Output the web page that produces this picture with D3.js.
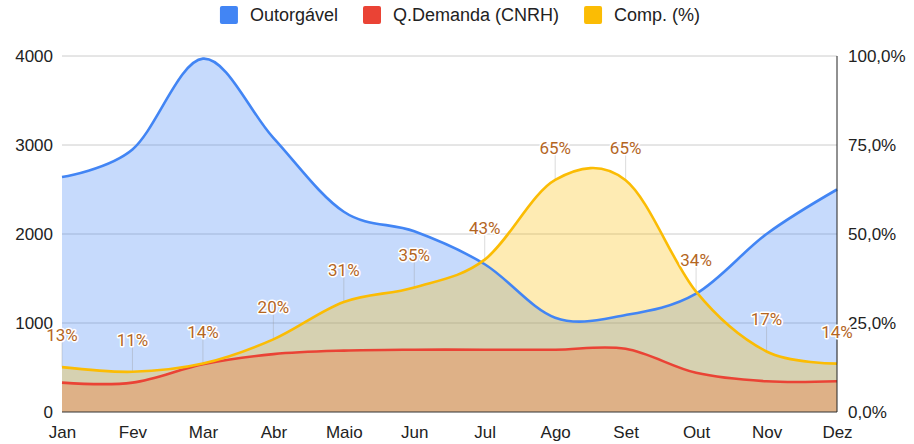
<!DOCTYPE html>
<html>
<head>
<meta charset="utf-8">
<script src="https://cdn.jsdelivr.net/npm/d3@7"></script>
<style>
  body { margin: 0; background: #fff; }
  svg { font-family: Arial, "Liberation Sans", sans-serif; }
</style>
</head>
<body>
<svg id="chart" width="914" height="444"></svg>
<script>
var months = ['Jan', 'Fev', 'Mar', 'Abr', 'Maio', 'Jun', 'Jul', 'Ago', 'Set', 'Out', 'Nov', 'Dez'];
var outorgavel = [2640, 2950, 3970, 3080, 2250, 2030, 1660, 1060, 1090, 1330, 2000, 2500];
var demanda = [330, 330, 536, 650, 690, 700, 700, 700, 710, 440, 345, 345];
var comp = [12.6, 11.3, 13.6, 20.4, 30.9, 35.0, 42.8, 65.2, 65.1, 33.8, 17.0, 13.6];
var leftTicks = [0, 1000, 2000, 3000, 4000];
var rightTicks = [0, 25, 50, 75, 100];
var seriesNames = ['Outorgável', 'Q.Demanda (CNRH)', 'Comp. (%)'];
var colors = ['#4285f4', '#ea4335', '#fbbc04'];

var svg = d3.select('#chart');
var plotLeft = 62, plotRight = 837, plotTop = 56, plotBottom = 412;

var x = d3.scalePoint().domain(months).range([plotLeft, plotRight]);
var yL = d3.scaleLinear().domain([0, 4000]).range([plotBottom, plotTop]);
var yR = d3.scaleLinear().domain([0, 100]).range([plotBottom, plotTop]);

// gridlines
svg.append('g')
    .selectAll('line')
    .data(leftTicks.slice(1))
    .enter()
    .append('line')
    .attr('x1', plotLeft).attr('x2', plotRight)
    .attr('y1', d => yL(d)).attr('y2', d => yL(d))
    .attr('stroke', '#cccccc')
    .attr('stroke-width', 1);

var curve = d3.curveCardinal.tension(0);

var series = [
    { vals: outorgavel, y: yL, color: colors[0] },
    { vals: demanda, y: yL, color: colors[1] },
    { vals: comp, y: yR, color: colors[2] }
];

series.forEach(function(s) {
    var area = d3.area()
        .x((d, i) => x(months[i]))
        .y0(plotBottom)
        .y1(d => s.y(d))
        .curve(curve);
    svg.append('path')
        .attr('d', area(s.vals))
        .attr('fill', s.color)
        .attr('fill-opacity', 0.3);
});

// annotation stems
svg.append('g')
    .selectAll('line')
    .data(comp)
    .enter()
    .append('line')
    .attr('x1', (d, i) => x(months[i])).attr('x2', (d, i) => x(months[i]))
    .attr('y1', d => yR(d) - 25).attr('y2', d => yR(d))
    .attr('stroke', '#999')
    .attr('stroke-opacity', 0.35)
    .attr('stroke-width', 1);

series.forEach(function(s) {
    var line = d3.line()
        .x((d, i) => x(months[i]))
        .y(d => s.y(d))
        .curve(curve);
    svg.append('path')
        .attr('d', line(s.vals))
        .attr('fill', 'none')
        .attr('stroke', s.color)
        .attr('stroke-width', 2.6);
});

// baseline and right axis line
svg.append('line')
    .attr('x1', plotLeft).attr('x2', plotRight)
    .attr('y1', plotBottom).attr('y2', plotBottom)
    .attr('stroke', '#333').attr('stroke-width', 1);
svg.append('line')
    .attr('x1', plotRight).attr('x2', plotRight)
    .attr('y1', plotTop).attr('y2', plotBottom)
    .attr('stroke', '#222').attr('stroke-width', 1);

// axes
var axisL = d3.axisLeft(yL).tickValues(leftTicks).tickSize(0).tickPadding(9)
    .tickFormat(d3.format('d'));
var gL = svg.append('g').attr('transform', 'translate(' + plotLeft + ',0)').call(axisL);
var axisR = d3.axisRight(yR).tickValues(rightTicks).tickSize(0).tickPadding(11)
    .tickFormat(d => d.toFixed(1).replace('.', ',') + '%');
var gR = svg.append('g').attr('transform', 'translate(' + plotRight + ',0)').call(axisR);
var axisB = d3.axisBottom(x).tickSize(0).tickPadding(14);
var gB = svg.append('g').attr('transform', 'translate(0,' + plotBottom + ')').call(axisB);
[gL, gR, gB].forEach(function(g) {
    g.select('.domain').remove();
    g.selectAll('text')
        .attr('font-family', 'Arial, "Liberation Sans", sans-serif')
        .attr('font-size', 17)
        .attr('fill', '#222');
});

// data labels
svg.append('g')
    .selectAll('text')
    .data(comp)
    .enter()
    .append('text')
    .attr('x', (d, i) => x(months[i]))
    .attr('y', d => yR(d) - 26)
    .attr('text-anchor', 'middle')
    .attr('font-family', 'Roboto, Arial, sans-serif')
    .attr('font-size', 17)
    .attr('fill', '#b4661f')
    .attr('stroke', '#fff')
    .attr('stroke-width', 3)
    .attr('stroke-linejoin', 'round')
    .attr('paint-order', 'stroke')
    .text(d => Math.round(d) + '%');

// legend
var legend = svg.append('g').attr('transform', 'translate(0,15)');
var items = legend.selectAll('g')
    .data(seriesNames)
    .enter()
    .append('g');
items.append('rect')
    .attr('width', 18).attr('height', 18)
    .attr('y', -9)
    .attr('rx', 2)
    .attr('fill', (d, i) => colors[i]);
items.append('text')
    .attr('x', 30)
    .attr('dy', '0.35em')
    .attr('font-size', 18)
    .attr('fill', '#222')
    .text(d => d);
var pos = 0, offsets = [];
items.each(function() {
    offsets.push(pos);
    pos += 30 + d3.select(this).select('text').node().getComputedTextLength() + 25;
});
var total = pos - 25;
var start = 460 - total / 2;
items.attr('transform', (d, i) => 'translate(' + (start + offsets[i]) + ',0)');
</script>
</body>
</html>
